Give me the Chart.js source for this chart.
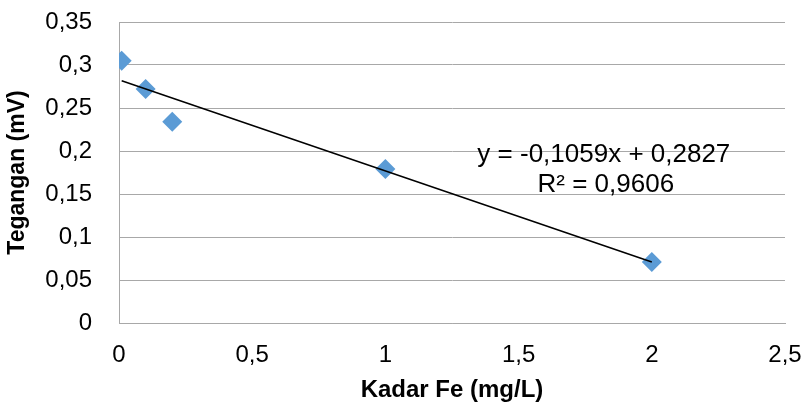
<!DOCTYPE html>
<html><head><meta charset="utf-8">
<script src="https://cdn.jsdelivr.net/npm/chart.js@4"></script>
<style>html,body{margin:0;padding:0;background:#fff}#wrap{width:806px;height:405px}</style>
</head><body><div id="wrap"><canvas id="c" width="806" height="405"></canvas></div>
<script>
const kadarFe = [0.01, 0.1, 0.2, 1, 2];
const tegangan = [0.305, 0.272, 0.234, 0.179, 0.071];
const trendSlope = -0.1059;
const trendIntercept = 0.2827;
const xTickLabels = ['0', '0,5', '1', '1,5', '2', '2,5'];
const yTickLabels = ['0', '0,05', '0,1', '0,15', '0,2', '0,25', '0,3', '0,35'];
const equationLines = ['y = -0,1059x + 0,2827', 'R² = 0,9606'];
const xTitle = 'Kadar Fe (mg/L)';
const yTitle = 'Tegangan (mV)';

const points = kadarFe.map((x, i) => ({x: x, y: tegangan[i]}));
const xMin = Math.min(...kadarFe), xMax = Math.max(...kadarFe);
const trend = [xMin, xMax].map(x => ({x: x, y: trendSlope * x + trendIntercept}));

const eqPlugin = {
  id: 'eq',
  afterDatasetsDraw(chart) {
    const {ctx, scales} = chart;
    ctx.save();
    ctx.font = '26px "Liberation Sans", Arial, sans-serif';
    ctx.fillStyle = '#000';
    ctx.textAlign = 'center';
    ctx.textBaseline = 'middle';
    const cx = scales.x.getPixelForValue(1.82);
    ctx.fillText(equationLines[0], cx, scales.y.getPixelForValue(0.1955));
    ctx.fillText(equationLines[1], cx + 2, scales.y.getPixelForValue(0.1605));
    ctx.restore();
  }
};

const gridColor = '#a8a8a8';
new Chart(document.getElementById('c'), {
  type: 'scatter',
  data: {
    datasets: [
      {
        type: 'line', data: trend, borderColor: '#000', borderWidth: 1.5,
        pointRadius: 0, fill: false, tension: 0
      },
      {
        data: points, pointStyle: 'rectRot', pointRadius: 10, pointHoverRadius: 10,
        backgroundColor: '#5b9bd5', borderColor: '#5b9bd5', borderWidth: 0
      }
    ]
  },
  plugins: [eqPlugin],
  options: {
    responsive: false,
    animation: false,
    events: [],
    layout: {padding: {top: 22, right: 21, left: 0, bottom: 0}},
    plugins: {legend: {display: false}, tooltip: {enabled: false}},
    scales: {
      x: {
        type: 'linear', min: 0, max: 2.5,
        ticks: {
          stepSize: 0.5, padding: 18, color: '#000',
          font: {family: '"Liberation Sans", Arial, sans-serif', size: 24},
          callback: (v, i) => xTickLabels[i]
        },
        grid: {display: false, drawTicks: false},
        border: {display: true, color: gridColor, width: 1},
        title: {
          display: true, text: xTitle, color: '#000', padding: {top: 5, bottom: 0},
          font: {family: '"Liberation Sans", Arial, sans-serif', size: 24, weight: 'bold'}
        },
        afterFit: s => { s.height = 82; s.paddingLeft = 0; s.paddingRight = 0; }
      },
      y: {
        type: 'linear', min: 0, max: 0.35,
        ticks: {
          stepSize: 0.05, padding: 27, color: '#000',
          font: {family: '"Liberation Sans", Arial, sans-serif', size: 24},
          callback: (v, i) => yTickLabels[i]
        },
        grid: {color: gridColor, lineWidth: 1, drawTicks: false},
        border: {display: true, color: gridColor, width: 1},
        title: {
          display: true, text: yTitle, color: '#000', padding: {top: 4, bottom: 0},
          font: {family: '"Liberation Sans", Arial, sans-serif', size: 23, weight: 'bold'}
        },
        afterFit: s => { s.width = 119; s.paddingTop = 0; s.paddingBottom = 0; }
      }
    }
  }
});
</script>
</body></html>
